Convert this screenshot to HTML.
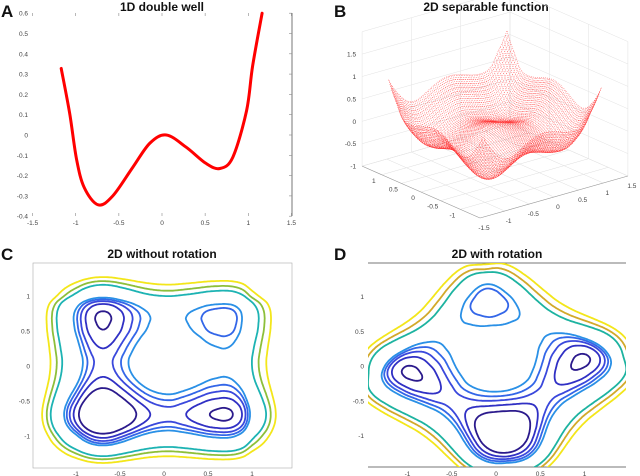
<!DOCTYPE html>
<html><head><meta charset="utf-8"><style>
html,body{margin:0;padding:0;background:#fff}
svg{display:block;font-family:"Liberation Sans",Arial,sans-serif}
.t{font-size:6.5px;fill:#444}
.ttl{font-size:12px;font-weight:bold;fill:#111}
.lbl{font-size:17px;font-weight:bold;fill:#111}
</style></head><body>
<svg id="fig" width="640" height="476" viewBox="0 0 640 476" xmlns="http://www.w3.org/2000/svg">
<defs>
<clipPath id="clipC"><rect x="33" y="263" width="259" height="205"/></clipPath>
<clipPath id="clipD"><rect x="368" y="263" width="258" height="204"/></clipPath>
</defs>
<text class="lbl" x="1" y="17">A</text>
<text class="ttl" x="162" y="11" text-anchor="middle">1D double well</text>
<text class="lbl" x="334" y="17">B</text>
<text class="ttl" x="486" y="11" text-anchor="middle">2D separable function</text>
<text class="lbl" x="1" y="260">C</text>
<text class="ttl" x="162" y="258" text-anchor="middle">2D without rotation</text>
<text class="lbl" x="334" y="260">D</text>
<text class="ttl" x="497" y="258" text-anchor="middle">2D with rotation</text>
<g id="pa"></g>
<g id="pb"></g>
<g id="pc"></g>
<g id="pd"></g>
</svg>
<script>
// Panel A curve data
const curveX = [-1.168,-1.07,-0.99,-0.90,-0.74,-0.57,-0.34,-0.14,0.05,0.28,0.51,0.67,0.82,0.98,1.05,1.16];
const curveY = [0.328,0.107,-0.12,-0.26,-0.344,-0.30,-0.16,-0.04,0.0,-0.06,-0.14,-0.165,-0.11,0.12,0.34,0.6];
const aXTicks = [-1.5,-1,-0.5,0,0.5,1,1.5];
const aYTicks = [-0.4,-0.3,-0.2,-0.1,0,0.1,0.2,0.3,0.4,0.5,0.6];
// 1D well function samples on x = -1.5..1.5 step 0.1
const gX = [-1.5,-1.4,-1.3,-1.2,-1.1,-1.0,-0.9,-0.8,-0.7,-0.6,-0.5,-0.4,-0.3,-0.2,-0.1,0,0.1,0.2,0.3,0.4,0.5,0.6,0.7,0.8,0.9,1.0,1.1,1.2,1.3,1.4,1.5];
const gV = [1.4,0.95,0.58,0.3,0.08,-0.08,-0.22,-0.31,-0.34,-0.32,-0.26,-0.19,-0.12,-0.06,-0.02,0,0,-0.025,-0.055,-0.09,-0.125,-0.143,-0.15,-0.12,-0.02,0.2,0.4,0.65,1.0,1.4,1.9];
const contourLevels = [-0.47,-0.38,-0.31,-0.25,-0.19,0.2,0.35,0.55];
const cColors = ['#2b1a8c','#3030c4','#3a48dc','#3366e8','#2a90e6','#1db3b3','#8dbf3a','#f3e61a'];
const dColors = ['#2b1a8c','#3030c4','#3a48dc','#3366e8','#2a90e6','#1db3a0','#d2a92a','#f3e61a'];
const cXTicks=[-1,-0.5,0,0.5,1], cYTicks=[-1,-0.5,0,0.5,1];
const bZTicks=[-1,-0.5,0,0.5,1,1.5], bXTicks=[-1.5,-1,-0.5,0,0.5,1,1.5], bYTicks=[-1,-0.5,0,0.5,1];
const rotDeg = 50;

const NS='http://www.w3.org/2000/svg';
function mk(parent,tag,attrs,text){const e=document.createElementNS(NS,tag);for(const k in attrs)e.setAttribute(k,attrs[k]);if(text!==undefined)e.textContent=text;parent.appendChild(e);return e;}
function gi(x){const n=gX.length;
 if(x<gX[0])return gV[0]+6*(gX[0]-x);
 if(x>gX[n-1])return gV[n-1]+6*(x-gX[n-1]);
 let t=(x-gX[0])/(gX[1]-gX[0]);let i=Math.floor(t);if(i<0)i=0;if(i>n-2)i=n-2;const f=t-i;
 const p0=gV[Math.max(i-1,0)],p1=gV[i],p2=gV[i+1],p3=gV[Math.min(i+2,n-1)];
 return 0.5*((2*p1)+(-p0+p2)*f+(2*p0-5*p1+4*p2-p3)*f*f+(-p0+3*p1-3*p2+p3)*f*f*f);}

// ---- Panel A
(function(){
 const g=document.getElementById('pa');
 const xs=x=>162+86.3*x, ys=y=>135-203*y;
 mk(g,'line',{x1:292,y1:13,x2:292,y2:216,stroke:'#777','stroke-width':1});
 aXTicks.forEach(v=>{const t=mk(g,'text',{class:'t',x:xs(v),y:225,'text-anchor':'middle'},String(v));
  
  mk(g,'line',{x1:xs(v),y1:216,x2:xs(v),y2:213,stroke:'#888','stroke-width':0.6});
  mk(g,'line',{x1:xs(v),y1:13,x2:xs(v),y2:16,stroke:'#888','stroke-width':0.6});});
 aYTicks.forEach(v=>{const t=mk(g,'text',{class:'t',x:28,y:ys(v)+2.5,'text-anchor':'end'},String(v));
  
  mk(g,'line',{x1:289,y1:ys(v),x2:292,y2:ys(v),stroke:'#888','stroke-width':0.6});});
 const P=curveX.map((x,i)=>[xs(x),ys(curveY[i])]);
 let d='M'+P[0][0]+','+P[0][1];
 for(let i=0;i<P.length-1;i++){const p0=P[Math.max(i-1,0)],p1=P[i],p2=P[i+1],p3=P[Math.min(i+2,P.length-1)];
  d+=' C'+(p1[0]+(p2[0]-p0[0])/6)+','+(p1[1]+(p2[1]-p0[1])/6)+' '+(p2[0]-(p3[0]-p1[0])/6)+','+(p2[1]-(p3[1]-p1[1])/6)+' '+p2[0]+','+p2[1];}
 const c=mk(g,'path',{d:d,fill:'none',stroke:'#f00','stroke-width':3,'stroke-linecap':'round'});
 
})();

// ---- Panel B
(function(){
 const g=document.getElementById('pb');
 const P=(x,y,z)=>[480+49.3*(x+1.5)-39.3*(y+1.5), 218-14*(x+1.5)-17.3*(y+1.5)-44.8*(z+1)];
 const L=(a,b,st,w)=>mk(g,'line',{x1:a[0],y1:a[1],x2:b[0],y2:b[1],stroke:st,'stroke-width':w||0.5});
 bXTicks.forEach(v=>{L(P(v,-1.5,-1),P(v,1.5,-1),'#ddd');});
 bYTicks.concat([-1.5,1.5]).forEach(v=>{L(P(-1.5,v,-1),P(1.5,v,-1),'#ddd');});
 bZTicks.concat([2]).forEach(v=>{L(P(-1.5,1.5,v),P(1.5,1.5,v),'#e2e2e2');L(P(1.5,-1.5,v),P(1.5,1.5,v),'#e2e2e2');});
 [-1.5,-0.5,0.5,1.5].forEach(v=>{L(P(v,1.5,-1),P(v,1.5,2),'#e2e2e2');L(P(1.5,v,-1),P(1.5,v,2),'#e2e2e2');});
 L(P(-1.5,1.5,-1),P(-1.5,-1.5,-1),'#999',0.6);L(P(-1.5,-1.5,-1),P(1.5,-1.5,-1),'#999',0.6);
 bZTicks.forEach(v=>{const p=P(-1.5,1.5,v);const t=mk(g,'text',{class:'t',x:p[0]-6,y:p[1]+2.5,'text-anchor':'end'},String(v));
  });
 bYTicks.forEach(v=>{const p=P(-1.5,v,-1);const t=mk(g,'text',{class:'t',x:p[0]-8,y:p[1]+8,'text-anchor':'middle'},String(v));
  });
 bXTicks.forEach(v=>{const p=P(v,-1.5,-1);const t=mk(g,'text',{class:'t',x:p[0]+4,y:p[1]+12,'text-anchor':'middle'},String(v));
  });
 const idx=[];gX.forEach((x,i)=>{if(x>=-1.21&&x<=1.21)idx.push(i);});
 const fine=[];for(let k=0;k<idx.length-1;k++){for(let s=0;s<3;s++)fine.push(gX[idx[k]]+s*0.0333);} fine.push(gX[idx[idx.length-1]]);
 const mesh=mk(g,'g',{fill:'none',stroke:'#f00','stroke-width':0.5,'stroke-dasharray':'0.8 1.2',opacity:0.8});
 
 for(const a of fine){let d1='',d2='';fine.forEach((b,j)=>{const p=P(a,b,gi(a)+gi(b)),q=P(b,a,gi(a)+gi(b));
  d1+=(j?'L':'M')+p[0].toFixed(1)+','+p[1].toFixed(1);d2+=(j?'L':'M')+q[0].toFixed(1)+','+q[1].toFixed(1);});
  mk(mesh,'path',{d:d1});mk(mesh,'path',{d:d2});}
})();

// ---- contour helper (marching squares)
function contours(g,fn,xs,ys,clip,colors,name){
 const N=160,x0=-1.6,x1=1.6,h=(x1-x0)/N;
 const V=[];for(let j=0;j<=N;j++){const r=[];for(let i=0;i<=N;i++)r.push(fn(x0+i*h,x0+j*h));V.push(r);}
 const grp=mk(g,'g',{'clip-path':'url(#'+clip+')',fill:'none','stroke-width':1.8,'stroke-linecap':'round'});
 contourLevels.forEach((lv,li)=>{let d='';
  const ip=(xa,ya,va,xb,yb,vb)=>{const t=(lv-va)/(vb-va);return [xs(xa+(xb-xa)*t),ys(ya+(yb-ya)*t)];};
  for(let j=0;j<N;j++)for(let i=0;i<N;i++){
   const xa=x0+i*h,ya=x0+j*h,xb=xa+h,yb=ya+h;
   const a=V[j][i],b=V[j][i+1],c=V[j+1][i+1],e=V[j+1][i];
   const pts=[];
   if((a<lv)!=(b<lv))pts.push(ip(xa,ya,a,xb,ya,b));
   if((b<lv)!=(c<lv))pts.push(ip(xb,ya,b,xb,yb,c));
   if((c<lv)!=(e<lv))pts.push(ip(xb,yb,c,xa,yb,e));
   if((e<lv)!=(a<lv))pts.push(ip(xa,yb,e,xa,ya,a));
   for(let k=0;k+1<pts.length;k+=2)d+='M'+pts[k][0].toFixed(1)+','+pts[k][1].toFixed(1)+'L'+pts[k+1][0].toFixed(1)+','+pts[k+1][1].toFixed(1);
  }
  const p=mk(grp,'path',{d:d,stroke:colors[li]});
  
 });
}

// ---- Panel C
(function(){
 const g=document.getElementById('pc');
 const xs=x=>164+88*x, ys=y=>366-70*y;
 mk(g,'rect',{x:33,y:263,width:259,height:205,fill:'none',stroke:'#aaa','stroke-width':0.6});
 cXTicks.forEach(v=>{const t=mk(g,'text',{class:'t',x:xs(v),y:476,'text-anchor':'middle'},String(v));
  });
 cYTicks.forEach(v=>{const t=mk(g,'text',{class:'t',x:30,y:ys(v)+2.5,'text-anchor':'end'},String(v));
  });
 contours(g,(x,y)=>gi(x)+gi(y),xs,ys,'clipC',cColors,'c-contour');
})();

// ---- Panel D
(function(){
 const g=document.getElementById('pd');
 const xs=x=>496+88.5*x, ys=y=>366-69.5*y;
 mk(g,'line',{x1:368,y1:263,x2:626,y2:263,stroke:'#777','stroke-width':1});
 mk(g,'line',{x1:368,y1:467,x2:626,y2:467,stroke:'#777','stroke-width':1});
 cXTicks.forEach(v=>{const t=mk(g,'text',{class:'t',x:xs(v),y:476,'text-anchor':'middle'},String(v));
  });
 cYTicks.forEach(v=>{const t=mk(g,'text',{class:'t',x:364,y:ys(v)+2.5,'text-anchor':'end'},String(v));
  });
 const a=rotDeg*Math.PI/180,ca=Math.cos(a),sa=Math.sin(a);
 contours(g,(x,y)=>gi(x*ca+y*sa)+gi(-x*sa+y*ca),xs,ys,'clipD',dColors,'d-contour');
})();
</script>
</body></html>
